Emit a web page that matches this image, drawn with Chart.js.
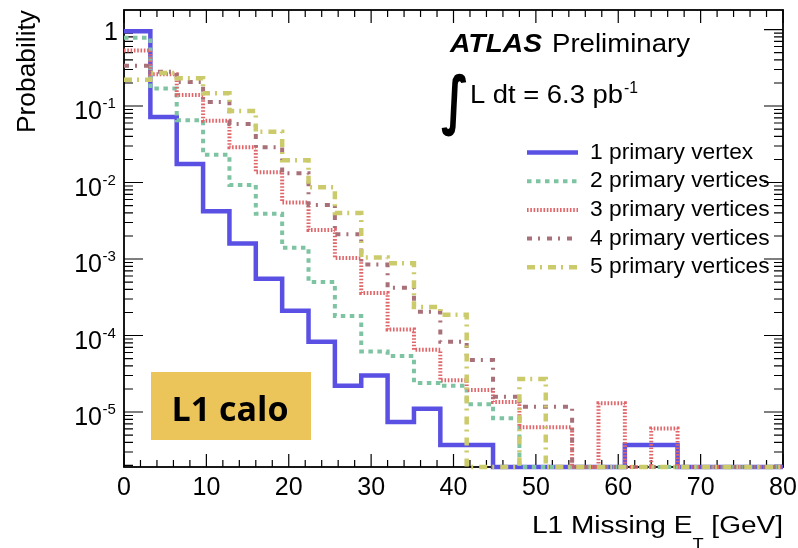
<!DOCTYPE html>
<html>
<head>
<meta charset="utf-8">
<script src="https://cdn.jsdelivr.net/npm/chart.js@4.4.0/dist/chart.umd.min.js"></script>
<style>
  body { margin: 0; background: #fff; }
  #wrap { width: 798px; height: 548px; }
</style>
</head>
<body>
<div id="wrap"><canvas id="grafico" width="798" height="548"></canvas></div>
<script>
// bordas inferiores dos bins (GeV) e borda final
const binLow = [0, 3.2, 6.4, 9.6, 12.8, 16, 19.2, 22.4, 25.6, 28.8, 32, 35.2, 38.4,
                41.6, 44.8, 48, 51.2, 54.4, 57.6, 60.8, 64, 67.2, 70.4, 73.6, 76.8];
const binHigh = 80;

const labels = ['1 primary vertex', '2 primary vertices', '3 primary vertices',
                '4 primary vertices', '5 primary vertices'];

// probabilidade por bin (0 = bin vazio)
const vertice1 = [0.95, 0.072, 0.0175, 0.0042, 0.0016, 0.00055, 0.00021, 0.000083, 0.000022,
                  0.00003, 0.0000074, 0.000011, 0.0000037, 0.0000037, 0, 0, 0, 0, 0,
                  0.0000037, 0.0000037, 0, 0, 0, 0];
const vertice2 = [0.78, 0.17, 0.065, 0.023, 0.0093, 0.0039, 0.0014, 0.0005, 0.00018,
                  0.000062, 0.000054, 0.000024, 0.000022, 0.0000126, 0.0000083, 0, 0, 0, 0,
                  0, 0, 0, 0, 0, 0];
const vertice3 = [0.53, 0.26, 0.139, 0.064, 0.029, 0.0136, 0.0055, 0.0024, 0.00103,
                  0.00036, 0.00012, 0.000065, 0.000026, 0.0000194, 0.0000135, 0.0000063,
                  0.0000063, 0, 0.000013, 0, 0.0000061, 0, 0, 0, 0];
const vertice4 = [0.336, 0.28, 0.206, 0.113, 0.058, 0.029, 0.0132, 0.0051, 0.0021,
                  0.00085, 0.00042, 0.000204, 0.000083, 0.000048, 0.0000158, 0.0000117,
                  0.0000117, 0, 0, 0, 0, 0, 0, 0, 0];
const vertice5 = [0.22, 0.27, 0.23, 0.147, 0.086, 0.046, 0.0196, 0.0087, 0.004,
                  0.00105, 0.00088, 0.000235, 0.000187, 0, 0, 0.000027, 0, 0, 0,
                  0, 0, 0, 0, 0, 0];

const xTickLabels = ['0', '10', '20', '30', '40', '50', '60', '70', '80'];
const yTickExpoentes = [0, -1, -2, -3, -4, -5];

const Y_MIN = 1.91e-6;
const Y_MAX = 1.8;
const FONTE = "'Liberation Sans', Arial, sans-serif";

const estilos = [
  { cor: '#5a50e4', dash: [], largura: 4.5 },
  { cor: '#7fc4a2', dash: [4.5, 4.5], largura: 4 },
  { cor: '#e0666a', dash: [1.6, 1.7], largura: 4 },
  { cor: '#a87078', dash: [5, 6, 2, 7], largura: 4 },
  { cor: '#cccb6c', dash: [8, 5, 2, 6], largura: 4.5 }
];

function montaPontos(valores) {
  const pts = binLow.map((x, i) => ({ x: x, y: valores[i] > 0 ? valores[i] : Y_MIN }));
  pts.push({ x: binHigh, y: pts[pts.length - 1].y });
  return pts;
}

// escreve texto esticado na horizontal ate a largura pedida
function textoLargura(ctx, texto, x, y, fonte, largura) {
  ctx.save();
  ctx.font = fonte;
  ctx.textAlign = 'left';
  const w = ctx.measureText(texto).width;
  ctx.translate(x, y);
  ctx.scale(largura / w, 1);
  ctx.fillText(texto, 0, 0);
  ctx.restore();
}

const series = [vertice1, vertice2, vertice3, vertice4, vertice5];
const datasets = series.map((valores, i) => ({
  label: labels[i],
  data: montaPontos(valores),
  borderColor: estilos[i].cor,
  borderDash: estilos[i].dash,
  borderWidth: estilos[i].largura,
  stepped: 'before',
  pointRadius: 0,
  fill: false,
  clip: false,
  order: 5 - i
}));

const moldura = {
  id: 'moldura',
  beforeDatasetsDraw(chart) {
    const { ctx, chartArea: a, scales: { x, y } } = chart;
    ctx.save();
    ctx.strokeStyle = '#000';
    ctx.lineWidth = 1.2;
    ctx.beginPath();
    for (let v = 0; v <= binHigh; v += 2) {
      const px = x.getPixelForValue(v);
      const len = v % 10 === 0 ? 13 : 7;
      ctx.moveTo(px, a.bottom); ctx.lineTo(px, a.bottom - len);
      ctx.moveTo(px, a.top); ctx.lineTo(px, a.top + len);
    }
    for (let p = -6; p <= 0; p++) {
      for (let k = 1; k <= 9; k++) {
        const v = k * Math.pow(10, p);
        if (v < Y_MIN || v > Y_MAX) continue;
        const py = y.getPixelForValue(v);
        const len = k === 1 ? 19 : 9;
        ctx.moveTo(a.left, py); ctx.lineTo(a.left + len, py);
        ctx.moveTo(a.right, py); ctx.lineTo(a.right - len, py);
      }
    }
    ctx.stroke();
    ctx.lineWidth = 1.8;
    ctx.strokeRect(a.left, a.top, a.right - a.left, a.bottom - a.top);
    ctx.restore();
  },
  afterDraw(chart) {
    const { ctx, chartArea: a, scales: { x, y } } = chart;
    ctx.save();
    ctx.fillStyle = '#000';
    ctx.textBaseline = 'alphabetic';

    // rotulos do eixo x
    ctx.font = '25px ' + FONTE;
    ctx.textAlign = 'center';
    xTickLabels.forEach(t => {
      ctx.fillText(t, x.getPixelForValue(Number(t)), 495);
    });

    // rotulos do eixo y (potencias de 10)
    yTickExpoentes.forEach(p => {
      const py = y.getPixelForValue(Math.pow(10, p));
      ctx.font = '25px ' + FONTE;
      ctx.textAlign = 'right';
      if (p === 0) {
        ctx.fillText('1', 118, py + 10);
        return;
      }
      ctx.fillText('10', 102, py + 13);
      ctx.font = '15px ' + FONTE;
      ctx.textAlign = 'left';
      ctx.fillText(String(p), 102.5, py + 2);
    });

    // titulo eixo x com subscrito
    const f22 = '23px ' + FONTE, f15 = '15px ' + FONTE;
    ctx.font = f22;
    const w1 = ctx.measureText('L1 Missing E').width;
    const w3 = ctx.measureText(' [GeV]').width;
    ctx.font = f15;
    const wT = ctx.measureText('T').width;
    const k = 251 / (w1 + wT + w3);
    const xi = a.right - 251;
    textoLargura(ctx, 'L1 Missing E', xi, 533, f22, w1 * k);
    textoLargura(ctx, 'T', xi + w1 * k, 548, f15, wT * k);
    textoLargura(ctx, ' [GeV]', xi + (w1 + wT) * k, 533, f22, w3 * k);

    // titulo eixo y
    ctx.save();
    ctx.translate(35, 10);
    ctx.rotate(-Math.PI / 2);
    textoLargura(ctx, 'Probability', -123, 0, '25px ' + FONTE, 123);
    ctx.restore();

    // ATLAS Preliminary
    textoLargura(ctx, 'ATLAS', 450, 52, 'italic bold 25px ' + FONTE, 92);
    textoLargura(ctx, 'Preliminary', 552, 52, '25px ' + FONTE, 138);

    // luminosidade integrada
    textoLargura(ctx, '\u222B', 441, 122, 'bold 64px "DejaVu Sans"', 28);
    textoLargura(ctx, 'L dt = 6.3 pb', 470, 103, '25px ' + FONTE, 153);
    textoLargura(ctx, '-1', 624, 93, '16px ' + FONTE, 14);

    // legenda
    chart.data.datasets.forEach((ds, i) => {
      const ly = 152.5 + i * 28.7;
      ctx.save();
      ctx.strokeStyle = ds.borderColor;
      ctx.lineWidth = ds.borderWidth;
      ctx.setLineDash(ds.borderDash);
      ctx.beginPath();
      ctx.moveTo(527, ly);
      ctx.lineTo(578, ly);
      ctx.stroke();
      ctx.restore();
      ctx.font = '22px ' + FONTE;
      const w = ctx.measureText(ds.label).width;
      textoLargura(ctx, ds.label, 590, ly + 6, '22px ' + FONTE, w * 1.035);
    });

    // caixa L1 calo
    ctx.fillStyle = '#ebc45a';
    ctx.fillRect(151, 372, 160, 68);
    ctx.fillStyle = '#000';
    ctx.font = 'bold 34px "Open Sans"';
    ctx.textAlign = 'center';
    ctx.textBaseline = 'alphabetic';
    ctx.fillText('L1 calo', 230, 421);
    ctx.restore();
  }
};

new Chart(document.getElementById('grafico'), {
  type: 'line',
  data: { datasets: datasets },
  options: {
    responsive: false,
    animation: false,
    layout: { padding: { top: 10, right: 15, left: 0, bottom: 0 } },
    plugins: { legend: { display: false }, tooltip: { enabled: false } },
    elements: { line: { tension: 0, borderCapStyle: 'butt' } },
    scales: {
      x: {
        type: 'linear', min: 0, max: binHigh,
        ticks: { display: false }, grid: { display: false }, border: { display: false },
        afterFit(scale) { scale.height = 81; }
      },
      y: {
        type: 'logarithmic', min: Y_MIN, max: Y_MAX,
        ticks: { display: false }, grid: { display: false }, border: { display: false },
        afterFit(scale) { scale.width = 124; }
      }
    }
  },
  plugins: [moldura]
});
</script>
</body>
</html>
